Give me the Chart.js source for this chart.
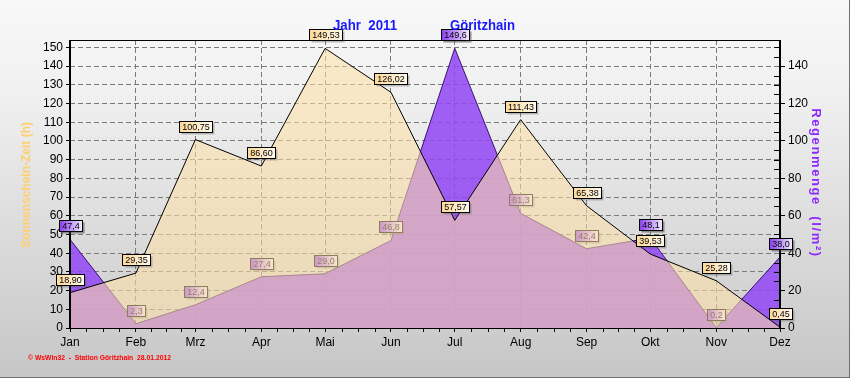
<!DOCTYPE html>
<html><head><meta charset="utf-8">
<script src="https://cdn.jsdelivr.net/npm/chart.js@4/dist/chart.umd.min.js"></script>
<style>html,body{margin:0;padding:0;background:#e8e8e8;overflow:hidden}canvas{display:block}</style>
</head><body>
<canvas id="c" width="850" height="378" style="width:850px;height:378px"></canvas>
<script>
// ---- data ----
const months = ['Jan','Feb','Mrz','Apr','Mai','Jun','Jul','Aug','Sep','Okt','Nov','Dez'];
const monthStartDay = [0,31,59,90,120,151,181,212,243,273,304,334];
const sunshineHours = [18.90, 29.35, 100.75, 86.60, 149.53, 126.02, 57.57, 111.43, 65.38, 39.53, 25.28, 0.45];
const rainAmount = [47.4, 2.3, 12.4, 27.4, 29.0, 46.8, 149.6, 61.3, 42.4, 48.1, 0.2, 38.0];
const leftTickStep = 10;
const rightTickStep = 20;
const titleLeft = 'Jahr  2011';
const titleRight = 'Göritzhain';
const leftAxisTitle = 'Sonnenschein-Zeit (h)';
const rightAxisTitle = 'Regenmenge  (l/m²)';
const footerText = '© WsWin32  -  Station Göritzhain  28.01.2012';

const FONT = "'Liberation Sans', Arial, sans-serif";
const fmt = (v, d) => v.toFixed(d).replace('.', ',');

const sunPts = monthStartDay.map((d, i) => ({x: d, y: sunshineHours[i]}));
const rainPts = monthStartDay.map((d, i) => ({x: d, y: rainAmount[i]}));

function fitText(ctx, text, x, y, targetW) {
  const w = ctx.measureText(text).width;
  ctx.save();
  ctx.translate(x, y);
  ctx.scale(targetW / w, 1);
  ctx.fillText(text, 0, 0);
  ctx.restore();
}

const bgPlugin = {
  id: 'bg',
  beforeDraw(chart) {
    const ctx = chart.ctx;
    const g = ctx.createLinearGradient(0, 0, 0, 378);
    g.addColorStop(0, '#f8f8f8');
    g.addColorStop(0.25, '#f0f0f0');
    g.addColorStop(1, '#c6c6c6');
    ctx.save();
    ctx.fillStyle = g;
    ctx.fillRect(0, 0, 850, 378);
    ctx.restore();
  }
};

function drawBox(ctx, x, y, text, c1, c2) {
  ctx.save();
  ctx.font = '9px ' + FONT;
  const w = Math.round(ctx.measureText(text).width + 5);
  const h = 11;
  const bx = Math.round(x - w / 2) + 0.5;
  const by = Math.round(y - 8 - h) + 0.5;
  ctx.fillStyle = 'rgba(80,80,80,0.35)';
  ctx.fillRect(bx + 2, by + 2, w, h);
  const g = ctx.createLinearGradient(bx, 0, bx + w, 0);
  g.addColorStop(0, c1);
  g.addColorStop(1, c2);
  ctx.fillStyle = g;
  ctx.fillRect(bx, by, w, h);
  ctx.strokeStyle = '#000';
  ctx.lineWidth = 1;
  ctx.strokeRect(bx, by, w, h);
  ctx.fillStyle = '#000';
  ctx.textAlign = 'center';
  ctx.textBaseline = 'middle';
  ctx.fillText(text, bx + w / 2, by + h / 2 + 1);
  ctx.restore();
}

function drawFrame(chart) {
  const ctx = chart.ctx;
  const a = chart.chartArea;
  const y1 = chart.scales.y1;
  const x = chart.scales.x;
  ctx.save();
  ctx.strokeStyle = '#000';
  ctx.lineWidth = 1;
  ctx.beginPath();
  ctx.moveTo(a.left, a.top + 0.5);
  ctx.lineTo(a.right, a.top + 0.5);
  ctx.moveTo(a.left, a.bottom + 0.5);
  ctx.lineTo(a.right, a.bottom + 0.5);
  // right axis minor ticks (inward)
  for (let v = 5; v <= 150; v += 5) {
    if (v % rightTickStep === 0) continue;
    const yy = Math.round(y1.getPixelForValue(v)) + 0.5;
    ctx.moveTo(a.right - 6, yy);
    ctx.lineTo(a.right - 1, yy);
  }
  // x axis minor ticks
  for (let i = 0; i < monthStartDay.length - 1; i++) {
    const d0 = monthStartDay[i], d1 = monthStartDay[i + 1];
    for (let k = 1; k < 4; k++) {
      const xx = Math.round(x.getPixelForValue(d0 + (d1 - d0) * k / 4)) + 0.5;
      ctx.moveTo(xx, a.bottom + 1);
      ctx.lineTo(xx, a.bottom + 4);
    }
  }
  ctx.stroke();
  ctx.lineWidth = 2;
  ctx.beginPath();
  ctx.moveTo(a.left, a.top);
  ctx.lineTo(a.left, a.bottom + 1);
  ctx.moveTo(a.right, a.top);
  ctx.lineTo(a.right, a.bottom + 1);
  ctx.stroke();
  ctx.restore();
}

const RAIN_COLORS = ['#8a3cf0', '#f4eeff'];
const SUN_COLORS = ['#ffd896', '#fffaf0'];

const labelPlugin = {
  id: 'labels',
  afterDatasetDraw(chart, args) {
    const ctx = chart.ctx;
    if (args.index === 1) {
      args.meta.data.forEach((p, i) => drawBox(ctx, p.x, p.y, fmt(rainAmount[i], 1), ...RAIN_COLORS));
    } else if (args.index === 0) {
      drawFrame(chart);
      // rain labels that sit above the sunshine area stay on top
      const rainMeta = chart.getDatasetMeta(1);
      rainMeta.data.forEach((p, i) => {
        if (rainAmount[i] > sunshineHours[i]) drawBox(ctx, p.x, p.y, fmt(rainAmount[i], 1), ...RAIN_COLORS);
      });
      args.meta.data.forEach((p, i) => drawBox(ctx, p.x, p.y, fmt(sunshineHours[i], 2), ...SUN_COLORS));
    }
  }
};

const decorPlugin = {
  id: 'decor',
  afterDraw(chart) {
    const ctx = chart.ctx;
    ctx.save();
    // outer frame
    ctx.strokeStyle = '#707070';
    ctx.lineWidth = 1;
    ctx.beginPath();
    ctx.moveTo(849.5, 0); ctx.lineTo(849.5, 378);
    ctx.moveTo(0, 377.5); ctx.lineTo(850, 377.5);
    ctx.stroke();

    // title
    ctx.fillStyle = '#1a1aff';
    ctx.font = 'bold 15px ' + FONT;
    ctx.textBaseline = 'alphabetic';
    ctx.textAlign = 'left';
    fitText(ctx, titleLeft, 333, 30, 64);
    fitText(ctx, titleRight, 450, 30, 65);

    // left axis title
    ctx.save();
    ctx.translate(27, 185);
    ctx.rotate(-Math.PI / 2);
    ctx.fillStyle = '#ffcf70';
    ctx.font = 'bold 12px ' + FONT;
    ctx.textAlign = 'center';
    ctx.textBaseline = 'middle';
    ctx.fillText(leftAxisTitle, 0, 0);
    ctx.restore();

    // right axis title
    ctx.save();
    ctx.translate(816, 183);
    ctx.rotate(Math.PI / 2);
    ctx.fillStyle = '#8c28ff';
    ctx.font = 'bold 13px ' + FONT;
    ctx.textAlign = 'left';
    ctx.textBaseline = 'middle';
    const w0 = ctx.measureText(rightAxisTitle).width;
    const n = [...rightAxisTitle].length;
    const sp = Math.max(0, (148 - w0) / (n - 1));
    ctx.letterSpacing = sp + 'px';
    const w1 = ctx.measureText(rightAxisTitle).width;
    ctx.fillText(rightAxisTitle, -w1 / 2, 0);
    ctx.restore();

    // footer
    ctx.fillStyle = '#ff0000';
    ctx.font = 'bold 8px ' + FONT;
    ctx.textBaseline = 'middle';
    fitText(ctx, footerText, 28, 358, 143);
    ctx.restore();
  }
};

new Chart(document.getElementById('c'), {
  type: 'line',
  data: {
    datasets: [
      {label: 'Sonnenschein-Zeit', data: sunPts, yAxisID: 'y', order: 1,
       borderColor: '#000', borderWidth: 1, backgroundColor: 'rgba(255,224,165,0.56)',
       fill: 'origin', pointRadius: 0, tension: 0},
      {label: 'Regenmenge', data: rainPts, yAxisID: 'y1', order: 2,
       borderColor: '#3a1470', borderWidth: 1, backgroundColor: 'rgba(145,70,245,0.86)',
       fill: 'origin', pointRadius: 0, tension: 0}
    ]
  },
  options: {
    responsive: false, animation: false, devicePixelRatio: 1,
    layout: {padding: {top: 40, left: 0, right: 0, bottom: 0}},
    plugins: {legend: {display: false}, tooltip: {enabled: false}, title: {display: false},
              filler: {drawTime: 'beforeDatasetDraw'}},
    scales: {
      x: {type: 'linear', min: 0, max: 334,
          afterBuildTicks: s => { s.ticks = monthStartDay.map(v => ({value: v})); },
          ticks: {callback: (v, i) => months[i], color: '#000', font: {size: 12, family: FONT},
                  padding: 3, maxRotation: 0, autoSkip: false},
          grid: {color: '#7a7a7a', lineWidth: 1, drawTicks: true, tickLength: 4, tickColor: '#000'},
          border: {display: false, dash: [5, 3]},
          afterFit: s => { s.height = 50; }},
      y: {position: 'left', min: 0, max: 154,
          ticks: {stepSize: leftTickStep, includeBounds: false, color: '#000', font: {size: 12, family: FONT}, padding: 3},
          grid: {color: '#7a7a7a', lineWidth: 1, tickLength: 4, tickColor: '#000'},
          border: {display: false, dash: [5, 3]},
          afterFit: s => { s.width = 70; }},
      y1: {position: 'right', min: 0, max: 154,
           ticks: {stepSize: rightTickStep, includeBounds: false, color: '#000', font: {size: 12, family: FONT}, padding: 3},
           grid: {drawOnChartArea: false, tickLength: 5, tickColor: '#000'},
           border: {display: false},
           afterFit: s => { s.width = 70; }}
    }
  },
  plugins: [bgPlugin, labelPlugin, decorPlugin]
});
</script>
</body></html>
